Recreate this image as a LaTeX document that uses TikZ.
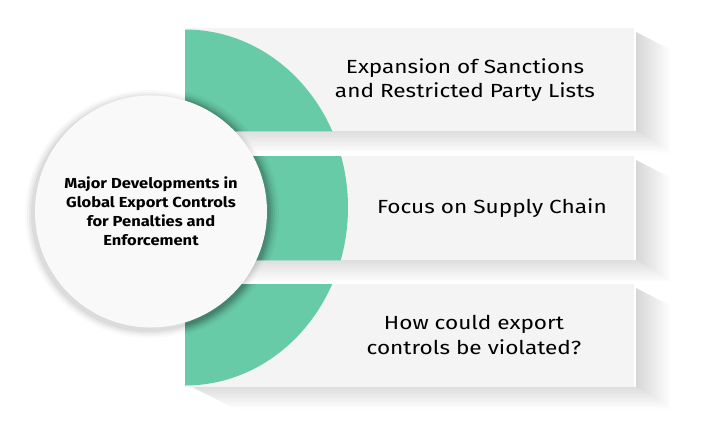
\documentclass[tikz,border=0pt]{standalone}
\usepackage{fontspec}
\setmainfont{Fira Sans}
\newfontfamily\panelfont[FakeStretch=1.19]{Fira Sans}
\newfontfamily\hubfont[FakeStretch=1.14]{Fira Sans}
\definecolor{mint}{HTML}{68CBA8}
\definecolor{boxgray}{HTML}{F4F4F4}
\definecolor{circfill}{HTML}{F9F9F9}
\tikzset{
  panel/.style={fill=boxgray, draw=none, minimum width=449pt, inner sep=0pt, anchor=north west},
  paneltext/.style={font=\panelfont\fontsize{19}{24.5}\selectfont, align=center, text=black},
  hubtext/.style={font=\hubfont\bfseries\fontsize{14.5}{19}\selectfont, align=center, text=black},
  shadeR/.style={left color=black!16, right color=white, draw=none},
  shadeB/.style={top color=black!13, bottom color=white, draw=none},
}
\begin{document}
\begin{tikzpicture}[x=1pt,y=-1pt]
\useasboundingbox (0,0) rectangle (725,429);
\fill[white] (0,0) rectangle (725,429);
% shadows of panels
\foreach \t/\b in {28/131, 156/260, 284/387}{
  \path[shadeR] (636,\t+4) -- (671,\t+22) -- (671,\b+22) -- (636,\b) -- cycle;
  \path[shadeB] (192,\b) -- (636,\b) -- (671,\b+22) -- (236,\b+22) -- cycle;
}
% panels
\node[panel, minimum height=103pt] (box1) at (185,28) {};
\node[panel, minimum height=104pt] (box2) at (185,156) {};
\node[panel, minimum height=103pt] (box3) at (185,284) {};
% green arc clipped to panels
\begin{scope}
  \clip (box1.north west) rectangle (box1.south east)
        (box2.north west) rectangle (box2.south east)
        (box3.north west) rectangle (box3.south east);
  \fill[mint] (185,207.5) ellipse [x radius=163, y radius=178];
  % soft shadow of hub on panels
  \foreach \r/\o in {10/0.03, 8/0.04, 6/0.05, 4/0.06, 2/0.07}{
    \fill[black, opacity=\o] (153,213) circle [radius=116+\r];
  }
\end{scope}
% hub glow shadow
\foreach \r/\o in {8/0.02, 6/0.03, 4/0.04, 2/0.05}{
  \fill[black, opacity=\o] (149,214) circle [radius=116+\r];
}
\node[circle, fill=circfill, minimum size=232pt, inner sep=0pt] (hub) at (151,211.5) {};
\node[hubtext] (hubt) at (151,211) {Major Developments in\\Global Export Controls\\for Penalties and\\Enforcement};
% panel texts
\node[paneltext] (t1) at (465,80) {Expansion of Sanctions\\and Restricted Party Lists};
\node[paneltext] (t2) at (492,208) {Focus on Supply Chain};
\node[paneltext] (t3) at (474,335) {How could export\\controls be violated?};
\end{tikzpicture}
\end{document}
